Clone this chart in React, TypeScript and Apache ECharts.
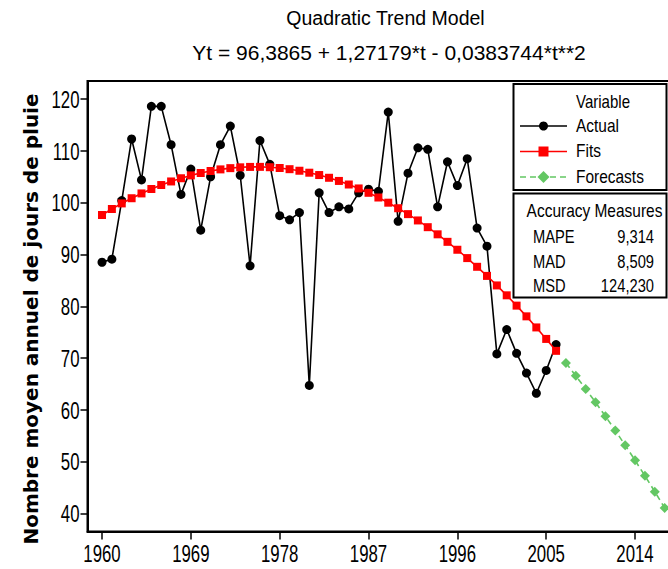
import React, { useEffect, useRef } from "react";
import * as echarts from "echarts";

const years = [
  1960, 1961, 1962, 1963, 1964, 1965, 1966, 1967, 1968, 1969,
  1970, 1971, 1972, 1973, 1974, 1975, 1976, 1977, 1978, 1979,
  1980, 1981, 1982, 1983, 1984, 1985, 1986, 1987, 1988, 1989,
  1990, 1991, 1992, 1993, 1994, 1995, 1996, 1997, 1998, 1999,
  2000, 2001, 2002, 2003, 2004, 2005, 2006,
];
const actual = [
  88.5, 89.1, 100.4, 112.3, 104.4, 118.6, 118.6, 111.2, 101.6, 106.5,
  94.7, 105.0, 111.2, 114.8, 105.3, 87.8, 112.0, 107.4, 97.5, 96.7,
  98.1, 64.7, 101.9, 98.1, 99.2, 98.8, 101.9, 102.6, 102.2, 117.5,
  96.4, 105.7, 110.6, 110.3, 99.2, 107.9, 103.3, 108.5, 95.1, 91.6,
  70.8, 75.5, 70.9, 67.1, 63.2, 67.6, 72.6,
];
const fits = [
  97.62, 98.78, 99.86, 100.86, 101.79, 102.64, 103.41, 104.1, 104.72, 105.27,
  105.73, 106.12, 106.43, 106.67, 106.83, 106.91, 106.92, 106.85, 106.7, 106.47,
  106.17, 105.79, 105.34, 104.81, 104.2, 103.51, 102.75, 101.91, 101.0, 100.0,
  98.93, 97.79, 96.57, 95.27, 93.89, 92.44, 90.91, 89.3, 87.62, 85.86,
  84.02, 82.11, 80.12, 78.05, 75.91, 73.69, 71.39,
];
const forecastYears = [2007, 2008, 2009, 2010, 2011, 2012, 2013, 2014, 2015, 2016, 2017];
const forecasts = [69.02, 66.57, 64.04, 61.44, 58.76, 56.0, 53.16, 50.25, 47.26, 44.2, 41.06];

const xTickLabels = [1960, 1969, 1978, 1987, 1996, 2005, 2014];
const yTickLabels = [40, 50, 60, 70, 80, 90, 100, 110, 120];

const titleText = "Quadratic Trend Model";
const equationText = "Yt = 96,3865 + 1,27179*t - 0,0383744*t**2";
const yAxisTitle = "Nombre moyen annuel de jours de pluie";
const legendTitle = "Variable";
const legendNames = ["Actual", "Fits", "Forecasts"];
const accuracyTitle = "Accuracy Measures";
const accuracyNames = ["MAPE", "MAD", "MSD"];
const accuracyValues = ["9,314", "8,509", "124,230"];

const FONT = "'Liberation Sans', Arial, sans-serif";
const GREEN = "#63C763";
const X_MIN = 1958.53;
const X_MAX = 2018.2;
const Y_MIN = 36.5;
const Y_MAX = 123.5;

function txt(
  x: number,
  y: number,
  text: string,
  size: number,
  align: string,
  scaleX: number,
  z = 11,
  weight = "normal",
  family = FONT
) {
  return {
    type: "text",
    x,
    y,
    scaleX,
    z,
    style: {
      text,
      font: `${weight} ${size}px ${family}`,
      fill: "#000",
      align,
      verticalAlign: "middle",
    },
  };
}

export default function App() {
  const ref = useRef<HTMLDivElement>(null);
  useEffect(() => {
    if (!ref.current) return;
    const chart = echarts.init(ref.current, null, { renderer: "svg" });
    const pair = (xs: number[], ys: number[]) => xs.map((x, i) => [x, ys[i]]);

    chart.setOption({
      animation: false,
      backgroundColor: "#fff",
      grid: {
        left: 87.5,
        top: 81,
        right: -8.5,
        bottom: 37.5,
        containLabel: false,
        outerBoundsMode: "none",
        show: true,
        borderColor: "#000",
        borderWidth: 2,
        backgroundColor: "#fff",
      },
      xAxis: {
        type: "value",
        min: X_MIN,
        max: X_MAX,
        axisLine: { show: true, onZero: false, lineStyle: { color: "#000", width: 2 } },
        axisTick: { show: true, length: 8, customValues: xTickLabels, lineStyle: { color: "#000", width: 1.5 } },
        axisLabel: { show: false, customValues: xTickLabels },
        splitLine: { show: false },
      },
      yAxis: {
        type: "value",
        min: Y_MIN,
        max: Y_MAX,
        axisLine: { show: true, onZero: false, lineStyle: { color: "#000", width: 2 } },
        axisTick: { show: true, length: 7, customValues: yTickLabels, lineStyle: { color: "#000", width: 1.5 } },
        axisLabel: { show: false, customValues: yTickLabels },
        splitLine: { show: false },
      },
      series: [
        {
          name: "Actual",
          type: "line",
          data: pair(years, actual),
          symbol: "circle",
          symbolSize: 9,
          lineStyle: { color: "#000", width: 1.6 },
          itemStyle: { color: "#000" },
          z: 3,
        },
        {
          name: "Fits",
          type: "line",
          data: pair(years, fits),
          symbol: "rect",
          symbolSize: 8,
          lineStyle: { color: "#f00", width: 1.6 },
          itemStyle: { color: "#f00" },
          z: 4,
        },
        {
          name: "Forecasts",
          type: "line",
          data: pair(forecastYears, forecasts),
          symbol: "diamond",
          symbolSize: 10,
          lineStyle: { color: GREEN, width: 1.6, type: [6, 4] },
          itemStyle: { color: GREEN },
          z: 4,
        },
      ],
    });

    // tick label positions from the library's own scales
    const axisBottom = chart.convertToPixel({ yAxisIndex: 0 }, Y_MIN) as number;
    const axisLeft = chart.convertToPixel({ xAxisIndex: 0 }, X_MIN) as number;
    const xLabels = xTickLabels.map((v) =>
      txt(chart.convertToPixel({ xAxisIndex: 0 }, v) as number, axisBottom + 23, String(v), 23, "center", 0.73, 5)
    );
    const yLabels = yTickLabels.map((v) =>
      txt(axisLeft - 8, chart.convertToPixel({ yAxisIndex: 0 }, v) as number, String(v), 24, "right", 0.7, 5)
    );

    const legendRows = [126, 151.5, 177];
    const accRows = [236.5, 261.5, 286];

    const graphic: any[] = [
      txt(385.5, 18, titleText, 19.5, "center", 1, 5),
      txt(389, 52, equationText, 21, "center", 1, 5),
      {
        type: "text",
        x: 31,
        y: 319,
        rotation: Math.PI / 2,
        style: {
          text: yAxisTitle,
          font: `bold 20px 'DejaVu Sans', sans-serif`,
          fill: "#000",
          align: "center",
          verticalAlign: "middle",
        },
      },
      ...xLabels,
      ...yLabels,
      {
        type: "rect",
        shape: { x: 513.5, y: 84, width: 153, height: 106 },
        style: { fill: "#fff", stroke: "#000", lineWidth: 2 },
        z: 10,
      },
      {
        type: "rect",
        shape: { x: 513.5, y: 193.5, width: 153, height: 104 },
        style: { fill: "#fff", stroke: "#000", lineWidth: 2 },
        z: 10,
      },
      txt(603, 102, legendTitle, 17.5, "center", 0.86),
      // Actual
      { type: "line", z: 11, shape: { x1: 520, y1: legendRows[0], x2: 567, y2: legendRows[0] }, style: { stroke: "#000", lineWidth: 1.5 } },
      { type: "circle", z: 12, shape: { cx: 543.5, cy: legendRows[0], r: 4.5 }, style: { fill: "#000" } },
      // Fits
      { type: "line", z: 11, shape: { x1: 520, y1: legendRows[1], x2: 567, y2: legendRows[1] }, style: { stroke: "#f00", lineWidth: 1.5 } },
      { type: "rect", z: 12, shape: { x: 538.5, y: legendRows[1] - 5, width: 10, height: 10 }, style: { fill: "#f00" } },
      // Forecasts
      { type: "line", z: 11, shape: { x1: 520, y1: legendRows[2], x2: 567, y2: legendRows[2] }, style: { stroke: GREEN, lineWidth: 1.5, lineDash: [6, 4] } },
      {
        type: "polygon",
        z: 12,
        shape: {
          points: [
            [543.5, legendRows[2] - 6],
            [549.5, legendRows[2]],
            [543.5, legendRows[2] + 6],
            [537.5, legendRows[2]],
          ],
        },
        style: { fill: GREEN },
      },
      ...legendNames.map((n, i) => txt(576, legendRows[i], n, 18, "left", 0.86)),
      txt(594.5, 211, accuracyTitle, 18, "center", 0.86),
      ...accuracyNames.map((n, i) => txt(533, accRows[i], n, 17.5, "left", 0.84)),
      ...accuracyValues.map((v, i) => txt(654, accRows[i], v, 17.5, "right", 0.84)),
    ];

    chart.setOption({ graphic });
    return () => chart.dispose();
  }, []);
  return (
    <div
      ref={ref}
      style={{ position: "fixed", left: 0, top: 0, width: 668, height: 569 }}
    />
  );
}
